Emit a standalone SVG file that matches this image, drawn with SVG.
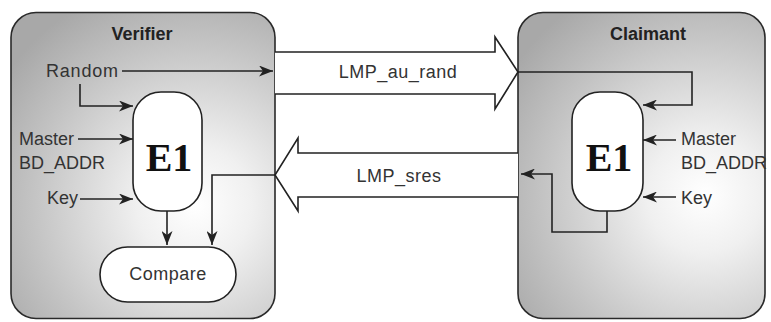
<svg xmlns="http://www.w3.org/2000/svg" width="771" height="322" viewBox="0 0 771 322">
  <defs>
    <radialGradient id="gradVerifier" gradientUnits="userSpaceOnUse" cx="195" cy="205" r="230">
      <stop offset="0" stop-color="#ffffff"/>
      <stop offset="0.25" stop-color="#f0f0f0"/>
      <stop offset="0.7" stop-color="#c4c4c4"/>
      <stop offset="1" stop-color="#a8a8a8"/>
    </radialGradient>
    <radialGradient id="gradClaimant" gradientUnits="userSpaceOnUse" cx="705" cy="195" r="230">
      <stop offset="0" stop-color="#ffffff"/>
      <stop offset="0.25" stop-color="#f0f0f0"/>
      <stop offset="0.7" stop-color="#c4c4c4"/>
      <stop offset="1" stop-color="#a8a8a8"/>
    </radialGradient>
    <marker id="arrow" markerUnits="userSpaceOnUse" markerWidth="15" markerHeight="11" refX="14" refY="5.5" orient="auto">
      <path d="M0,0 L14,5.5 L0,11 L4,5.5 Z" fill="#222"/>
    </marker>
  </defs>
  <style>
    .panel { stroke: #2a2a2a; stroke-width: 1.6; }
    .block { fill: #ffffff; stroke: #222; stroke-width: 1.6; }
    .wire-arrow { fill: none; stroke: #222; stroke-width: 1.6; marker-end: url(#arrow); }
    .msg { fill: #ffffff; stroke: #222; stroke-width: 1.6; stroke-linejoin: miter; }
    .label { font-family: "Liberation Sans", Arial, sans-serif; font-size: 18px; fill: #333; }
    .title { font-family: "Liberation Sans", Arial, sans-serif; font-size: 18px; font-weight: bold; fill: #222; }
    .cipher { font-family: "Liberation Serif", "Times New Roman", serif; font-size: 40px; font-weight: bold; fill: #111; }
  </style>

  <rect width="771" height="322" fill="#ffffff"/>

  <!-- Verifier side -->
  <g id="verifier">
    <rect class="panel" x="11" y="12.5" width="264" height="306" rx="25" ry="25" fill="url(#gradVerifier)"/>
    <text class="title" x="142" y="40" text-anchor="middle">Verifier</text>
    <text class="label" x="46" y="77" letter-spacing="0.8">Random</text>
    <text class="label" x="19" y="145">Master</text>
    <text class="label" x="19" y="169">BD_ADDR</text>
    <text class="label" x="47" y="204">Key</text>
  </g>
  <g id="verifier-e1">
    <rect class="block" x="133" y="92" width="69" height="119" rx="28" ry="28"/>
    <text class="cipher" x="169" y="171" text-anchor="middle">E1</text>
  </g>
  <g id="verifier-compare">
    <rect class="block" x="100" y="247" width="136" height="55" rx="27.5" ry="27.5"/>
    <text class="label" x="168" y="280" text-anchor="middle" letter-spacing="0.5">Compare</text>
  </g>

  <!-- Claimant side -->
  <g id="claimant">
    <rect class="panel" x="518" y="12.5" width="247" height="306" rx="25" ry="25" fill="url(#gradClaimant)"/>
    <text class="title" x="648" y="40" text-anchor="middle">Claimant</text>
    <text class="label" x="681" y="145">Master</text>
    <text class="label" x="681" y="169">BD_ADDR</text>
    <text class="label" x="681" y="204">Key</text>
  </g>
  <g id="claimant-e1">
    <rect class="block" x="572" y="92" width="71" height="119" rx="28" ry="28"/>
    <text class="cipher" x="609" y="171" text-anchor="middle">E1</text>
  </g>

  <!-- Messages on the air link -->
  <g id="lmp-au-rand">
    <path class="msg" d="M275,52 L495,52 L495,37 L518,72 L495,109 L495,94 L275,94"/>
    <text class="label" x="398" y="78" text-anchor="middle" letter-spacing="0.5">LMP_au_rand</text>
  </g>
  <g id="lmp-sres">
    <path class="msg" d="M518,153 L298,153 L298,138 L275,175 L298,211 L298,197 L518,197"/>
    <text class="label" x="399" y="182" text-anchor="middle" letter-spacing="0.5">LMP_sres</text>
  </g>

  <!-- Connectors -->
  <g id="connectors">
    <!-- Verifier -->
    <line class="wire-arrow" x1="122" y1="71" x2="273" y2="71"/>
    <path class="wire-arrow" d="M80,84 L80,106 L133,106"/>
    <line class="wire-arrow" x1="78" y1="139" x2="133" y2="139"/>
    <line class="wire-arrow" x1="80" y1="199" x2="133" y2="199"/>
    <line class="wire-arrow" x1="167" y1="211" x2="167" y2="245"/>
    <path class="wire-arrow" d="M275,175 L212,175 L212,245"/>
    <!-- Claimant -->
    <path class="wire-arrow" d="M518,72 L692,72 L692,105 L643,105"/>
    <line class="wire-arrow" x1="676" y1="140" x2="643" y2="140"/>
    <line class="wire-arrow" x1="676" y1="197" x2="643" y2="197"/>
    <path class="wire-arrow" d="M607,211 L607,232 L552,232 L552,174 L521,174"/>
  </g>
</svg>
